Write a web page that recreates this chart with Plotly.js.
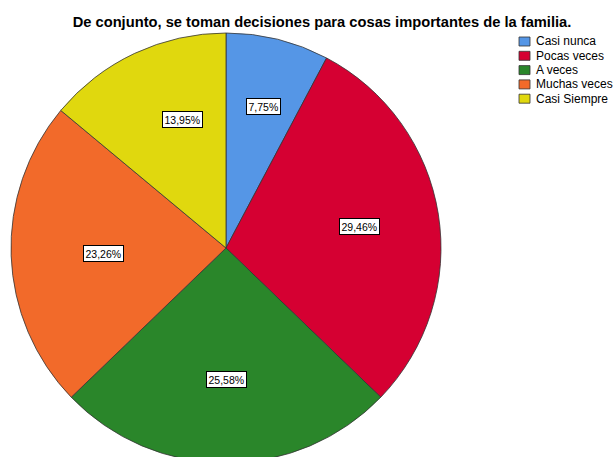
<!DOCTYPE html>
<html>
<head>
<meta charset="utf-8">
<script src="https://cdn.plot.ly/plotly-3.0.1.min.js"></script>
<style>
html, body { margin:0; padding:0; overflow:hidden; background:#fff; width:613px; height:457px; }
#chart { width:613px; height:470px; }
</style>
</head>
<body>
<div id="chart"></div>
<script>
// ---- data ----
const categories = ["Casi nunca", "Pocas veces", "A veces", "Muchas veces", "Casi Siempre"];
const percentages = [7.75, 29.46, 25.58, 23.26, 13.95];
const colors = ["#5596E6", "#D50032", "#2A862A", "#F26A2A", "#E0D80E"];
const chartTitle = "De conjunto, se toman decisiones para cosas importantes de la familia.";

// ---- layout geometry ----
const W = 613, H = 470;
const dom = { x: [11 / W, 441 / W], y: [(H - 463) / H, (H - 33) / H] };
const cx = (dom.x[0] + dom.x[1]) / 2 * W;
const cy = H - (dom.y[0] + dom.y[1]) / 2 * H;
const R = Math.min((dom.x[1] - dom.x[0]) * W, (dom.y[1] - dom.y[0]) * H) / 2;

const fmt = v => v.toFixed(2).replace('.', ',') + '%';

// percentage labels placed near each slice's centroid
const total = percentages.reduce((a, b) => a + b, 0);
const annotations = [];
let cum = 0;
percentages.forEach((v, i) => {
  const theta = 2 * Math.PI * (cum + v / 2) / total;
  const alpha = Math.PI * v / total;
  const r = 1.09 * 2 * R * Math.sin(alpha) / (3 * alpha);
  const px = cx + r * Math.sin(theta);
  const py = cy - r * Math.cos(theta);
  annotations.push({
    x: px / W, y: 1 - py / H, xref: 'paper', yref: 'paper',
    text: fmt(v), showarrow: false,
    font: { family: 'Liberation Sans, Arial, sans-serif', size: 10.5, color: '#000' },
    bgcolor: '#fff', bordercolor: '#000', borderwidth: 1, borderpad: 1.5
  });
  cum += v;
});

// legend (drawn as shapes + text)
const shapes = [];
const legX = 519, legY = 37, legStep = 14.3;
categories.forEach((c, i) => {
  const top = legY + i * legStep;
  shapes.push({
    type: 'rect', xref: 'paper', yref: 'paper',
    x0: legX / W, x1: (legX + 11) / W,
    y0: 1 - (top + 9) / H, y1: 1 - top / H,
    fillcolor: colors[i], line: { color: '#333', width: 0.8 }
  });
  annotations.push({
    x: (legX + 15) / W, y: 1 - (top + 4.5) / H, xref: 'paper', yref: 'paper',
    xanchor: 'left', yanchor: 'middle', showarrow: false, text: c,
    font: { family: 'Liberation Sans, Arial, sans-serif', size: 12, color: '#000' }
  });
});

const trace = {
  type: 'pie',
  labels: categories,
  values: percentages,
  sort: false,
  direction: 'clockwise',
  rotation: 0,
  marker: { colors: colors, line: { color: '#333', width: 0.8 } },
  textinfo: 'none',
  hoverinfo: 'label+percent',
  domain: dom,
  showlegend: false
};

const layout = {
  width: W, height: H,
  margin: { l: 0, r: 0, t: 0, b: 0 },
  paper_bgcolor: '#fff',
  showlegend: false,
  title: {
    text: '<b>' + chartTitle + '</b>',
    font: { family: 'Liberation Sans, Arial, sans-serif', size: 14.7, color: '#000' },
    x: 322 / W, xanchor: 'center', y: 1 - 22 / H, yanchor: 'middle'
  },
  annotations: annotations,
  shapes: shapes
};

Plotly.newPlot('chart', [trace], layout, { displayModeBar: false, staticPlot: true });
</script>
</body>
</html>
